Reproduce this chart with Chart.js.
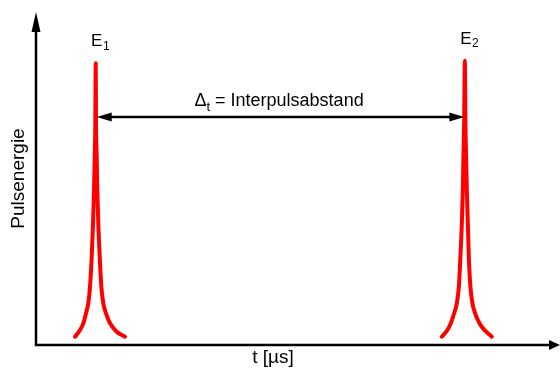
<!DOCTYPE html>
<html><head><meta charset="utf-8">
<script src="https://cdn.jsdelivr.net/npm/chart.js@4"></script>
<style>html,body{margin:0;padding:0;background:#fff}#wrap{width:560px;height:374px}</style>
</head><body><div id="wrap"><canvas id="c" width="560" height="374"></canvas></div>
<script>
// ---- data (time in µs, energy in arbitrary units) ----
const pulse1X = [10.42, 11.76, 12.64, 13.36, 13.97, 14.43, 14.88, 15.23, 15.50, 15.68, 15.84, 15.95, 16.03, 16.22, 16.38, 16.64, 17.02, 17.45, 17.98, 18.70, 19.77, 21.56, 23.78];
const pulse1Y = [2.49, 4.50, 6.52, 9.52, 12.52, 17.51, 26.52, 36.55, 46.55, 56.55, 66.58, 84.59, 66.58, 56.55, 46.55, 36.55, 26.52, 17.51, 12.52, 9.52, 6.52, 3.99, 2.49];
const pulse2X = [108.39, 109.89, 110.79, 111.68, 112.40, 112.94, 113.36, 113.74, 114.00, 114.16, 114.35, 114.54, 114.70, 114.88, 115.07, 115.34, 115.60, 116.03, 116.57, 117.29, 118.44, 119.96, 121.75];
const pulse2Y = [2.49, 4.50, 6.52, 9.52, 12.52, 17.51, 26.52, 36.55, 46.55, 56.55, 66.58, 85.38, 66.58, 56.55, 46.55, 36.55, 26.52, 17.51, 12.52, 9.52, 6.52, 4.29, 2.49];
const pulseNames = ['E', 'E'];
const pulseIndices = ['1', '2'];
const intervalSymbol = 'Δ';
const intervalSub = 't';
const intervalText = ' = Interpulsabstand';
const intervalLevel = 68.5;
const xTitle = 't [µs]';
const yTitle = 'Pulsenergie';
const xRange = [0, 126.6];
const yRange = [0, 100];

const FONT = '"Liberation Sans", Arial, Helvetica, sans-serif';
const pts = (xs, ys) => xs.map((x, i) => ({x, y: ys[i]}));
const peakOf = (xs, ys) => { let k = 0; ys.forEach((v, i) => { if (v > ys[k]) k = i; }); return {x: xs[k], y: ys[k]}; };

const decor = {
  id: 'decor',
  afterDraw(chart) {
    const ctx = chart.ctx, sx = chart.scales.x, sy = chart.scales.y;
    const x0 = sx.getPixelForValue(xRange[0]), y0 = sy.getPixelForValue(yRange[0]);
    const xE = chart.width, yE = sy.getPixelForValue(yRange[1]);
    ctx.save();
    ctx.strokeStyle = '#000'; ctx.fillStyle = '#000'; ctx.lineWidth = 2.5;
    // axes with arrowheads
    ctx.beginPath(); ctx.moveTo(x0, yE + 18); ctx.lineTo(x0, y0); ctx.lineTo(xE - 9, y0); ctx.stroke();
    ctx.beginPath(); ctx.moveTo(x0, yE); ctx.lineTo(x0 - 4.5, yE + 20); ctx.lineTo(x0 + 4.5, yE + 20); ctx.closePath(); ctx.fill();
    ctx.beginPath(); ctx.moveTo(xE, y0); ctx.lineTo(xE - 11, y0 - 5); ctx.lineTo(xE - 11, y0 + 5); ctx.closePath(); ctx.fill();
    // double arrow between peaks
    const p1 = peakOf(pulse1X, pulse1Y), p2 = peakOf(pulse2X, pulse2Y);
    const ax1 = sx.getPixelForValue(p1.x) + 1, ax2 = sx.getPixelForValue(p2.x) - 0.5;
    const ay = sy.getPixelForValue(intervalLevel);
    ctx.lineWidth = 2.5;
    ctx.beginPath(); ctx.moveTo(ax1 + 12, ay); ctx.lineTo(ax2 - 12, ay); ctx.stroke();
    ctx.beginPath(); ctx.moveTo(ax1, ay); ctx.lineTo(ax1 + 15, ay - 4.5); ctx.lineTo(ax1 + 15, ay + 4.5); ctx.closePath(); ctx.fill();
    ctx.beginPath(); ctx.moveTo(ax2, ay); ctx.lineTo(ax2 - 15, ay - 4.5); ctx.lineTo(ax2 - 15, ay + 4.5); ctx.closePath(); ctx.fill();
    // interval label
    ctx.textBaseline = 'alphabetic'; ctx.textAlign = 'left';
    const fMain = '18px ' + FONT, fSub = '13px ' + FONT;
    ctx.font = fMain; const w1 = ctx.measureText(intervalSymbol).width, w3 = ctx.measureText(intervalText).width;
    ctx.font = fSub; const w2 = ctx.measureText(intervalSub).width;
    const tot = w1 + w2 + w3;
    let tx = (ax1 + ax2) / 2 - 1.5 - tot / 2; const ty = ay - 11;
    ctx.font = fMain; ctx.fillText(intervalSymbol, tx, ty); tx += w1;
    ctx.font = fSub; ctx.fillText(intervalSub, tx, ty + 5); tx += w2;
    ctx.font = fMain; ctx.fillText(intervalText, tx, ty);
    // pulse labels
    [p1, p2].forEach((p, i) => {
      const px = sx.getPixelForValue(p.x), py = sy.getPixelForValue(p.y);
      ctx.font = '17px ' + FONT; const we = ctx.measureText(pulseNames[i]).width;
      const lx = px - we / 2 + 1, ly = py - 17;
      ctx.fillText(pulseNames[i], lx, ly);
      ctx.font = '12px ' + FONT; ctx.fillText(pulseIndices[i], lx + we + 0.5, ly + 3.5);
    });
    ctx.restore();
  }
};

new Chart(document.getElementById('c'), {
  type: 'scatter',
  data: { datasets: [
    { data: pts(pulse1X, pulse1Y), showLine: true, borderColor: '#ff0000', borderWidth: 4, pointRadius: 0, cubicInterpolationMode: 'monotone', borderCapStyle: 'round', borderJoinStyle: 'round' },
    { data: pts(pulse2X, pulse2Y), showLine: true, borderColor: '#ff0000', borderWidth: 4, pointRadius: 0, cubicInterpolationMode: 'monotone', borderCapStyle: 'round', borderJoinStyle: 'round' }
  ]},
  options: {
    responsive: false, animation: false, devicePixelRatio: 1,
    layout: { padding: { top: 12, right: 50, left: 0, bottom: 0 } },
    plugins: { legend: { display: false }, tooltip: { enabled: false } },
    scales: {
      x: { type: 'linear', min: xRange[0], max: xRange[1],
           ticks: { display: false }, grid: { display: false, drawTicks: false }, border: { display: false },
           title: { display: true, text: xTitle, color: '#000', font: { family: FONT, size: 19 }, padding: { top: 0, bottom: 5 } },
           afterFit(s) { s.height = 29; } },
      y: { type: 'linear', min: yRange[0], max: yRange[1],
           ticks: { display: false }, grid: { display: false, drawTicks: false }, border: { display: false },
           title: { display: true, text: yTitle, color: '#000', font: { family: FONT, size: 19 }, padding: { top: 7, bottom: 0 } },
           afterFit(s) { s.width = 36; } }
    }
  },
  plugins: [decor]
});
</script></body></html>
